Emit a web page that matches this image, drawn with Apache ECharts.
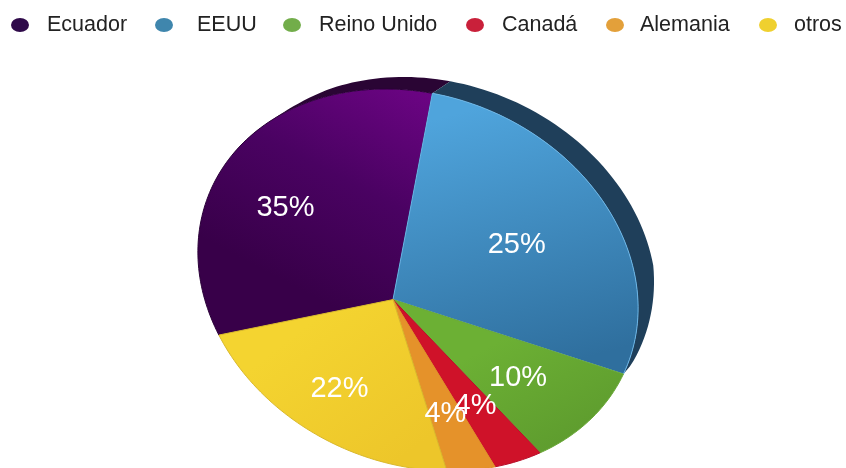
<!DOCTYPE html>
<html>
<head>
<meta charset="utf-8">
<title>Origen</title>
<script src="https://cdn.jsdelivr.net/npm/echarts@6/dist/echarts.min.js"></script>
<style>html,body{margin:0;padding:0;background:#fff}#c{width:846px;height:468px}</style>
</head>
<body>
<div id="c"></div>
<script>
// Shares per origin, clockwise from the Ecuador slice
const categories = ['Ecuador', 'EEUU', 'Reino Unido', 'Canadá', 'Alemania', 'otros'];
const shares = [35, 25, 10, 4, 4, 22];
const legendDots = ['#2f0a4a', '#3f86ad', '#72ad4a', '#c9203a', '#e3a03a', '#efd02f'];

// Tilted disc: screen ellipse, projected hub, angular foreshortening and the extrusion offset
const deg = Math.PI / 180;
const disc = { cx: 418, cy: 280, a: 226, b: 184, tilt: 23 * deg, hubX: -0.068, hubY: 0.151, start: 137 * deg };
const foreshorten = { base: -0.22, c1: 1.32, s1: 0.36, c2: 1.40, s2: 1.54 };
const depth = { x: 18, y: -12 };
const total = shares.reduce((s, v) => s + v, 0);

function toScreen(x, y) {
  return [disc.cx + x * Math.cos(disc.tilt) - y * Math.sin(disc.tilt),
          disc.cy + x * Math.sin(disc.tilt) + y * Math.cos(disc.tilt)];
}
function rimPoint(frac) {
  const w = 2 * Math.PI * frac, f = foreshorten;
  const shift = f.base + f.c1 * Math.cos(w) + f.s1 * Math.sin(w) + f.c2 * Math.cos(2 * w) + f.s2 * Math.sin(2 * w);
  const phi = disc.start + w + shift * deg;
  const ux = Math.cos(phi), uy = Math.sin(phi);
  const h = Math.hypot(disc.hubX, disc.hubY), nx = disc.hubX / h, ny = disc.hubY / h;
  const par = ux * nx + uy * ny, px = ux - par * nx, py = uy - par * ny;
  const den = 1 + h * par, k = Math.sqrt(1 - h * h) / den, q = (par + h) / den;
  return toScreen((q * nx + k * px) * disc.a, (q * ny + k * py) * disc.b);
}
function hubPoint() {
  return toScreen(disc.hubX * disc.a, disc.hubY * disc.b);
}
function cumulative(i) {
  return shares.slice(0, i).reduce((s, v) => s + v, 0) / total;
}
function arc(from, to) {
  const pts = [], n = Math.max(4, Math.ceil((to - from) * 240));
  for (let j = 0; j <= n; j++) pts.push(rimPoint(from + (to - from) * j / n));
  return pts;
}
function grad(x1, y1, x2, y2, stops) {
  return new echarts.graphic.LinearGradient(x1, y1, x2, y2,
    stops.map((color, k) => ({ offset: k / (stops.length - 1), color })), true);
}

const faceFill = [
  () => grad(430, 92, 320, 300, ['#6c0484', '#4a0262', '#380049']),
  () => grad(470, 110, 540, 370, ['#4fa4dc', '#2f6f9e']),
  () => grad(500, 340, 560, 450, ['#6cb034', '#5e9c2e']),
  () => '#cf1229',
  () => '#e5922a',
  () => grad(300, 330, 400, 460, ['#f4d430', '#edc62a'])
];
const faceEdge = ['#2a0038', '#69b4e6', '#6aa838', '#b8102a', '#e09028', '#d9b82c'];
const labelFrac = [0.655, 0.58, 0.64, 0.66, 0.67, 0.67];

function faceItem(i) {
  return function () {
    const f0 = cumulative(i), f1 = f0 + shares[i] / total;
    const hub = hubPoint();
    const mid = rimPoint((f0 + f1) / 2);
    const t = labelFrac[i];
    return {
      type: 'group',
      children: [
        { type: 'polygon', shape: { points: [hub].concat(arc(f0, f1)) },
          style: { fill: faceFill[i](), stroke: faceEdge[i], lineWidth: 1 } },
        { type: 'text', z2: 10, x: hub[0] + (mid[0] - hub[0]) * t, y: hub[1] + (mid[1] - hub[1]) * t,
          style: { text: shares[i] + '%', fill: '#fff', font: '29px "Liberation Sans", Arial, sans-serif', align: 'center', verticalAlign: 'middle' } }
      ]
    };
  };
}

// Extruded edge behind the two far slices, pinched to nothing where it runs into the near rim
function edgeItem() {
  const children = [];
  [[0, '#2a0534'], [1, '#1f3f5a']].forEach(([i, fill]) => {
    const f0 = cumulative(i), f1 = f0 + shares[i] / total;
    const inner = arc(f0, f1);
    const last = inner.length - 1;
    const outer = inner.map((p, j) => {
      const w = i === 1
        ? Math.min(1, Math.sqrt((last - j) / last / 0.3))
        : Math.max(0, Math.min(1, (j / last - 0.5) / 0.25));
      return [p[0] + depth.x * w, p[1] + depth.y * w];
    });
    children.push({ type: 'polygon', shape: { points: inner.concat(outer.reverse()) }, style: { fill } });
  });
  return { type: 'group', children };
}

const series = [{
  type: 'custom', name: 'canto', coordinateSystem: 'none', silent: true, z: 1,
  data: [0], renderItem: edgeItem, animation: false
}].concat(categories.map((name, i) => ({
  type: 'custom', name, coordinateSystem: 'none', silent: true, z: 2,
  data: [shares[i]], renderItem: faceItem(i), animation: false,
  itemStyle: { color: legendDots[i] }
})));

// Each legend entry is placed on its own: dot centre and the spacing to its text differ per entry
const legendDotX = [20, 164, 292, 475, 615, 768];
const legendPad = [13, 19, 13, 13, 11, 12];
const dotIcon = 'path://M0,5a5,5 0 1,0 10,0a5,5 0 1,0 -10,0z';
const legend = categories.map((name, i) => ({
  data: [name], left: legendDotX[i] - 9, top: 14, padding: 0, icon: dotIcon, symbolKeepAspect: false,
  itemWidth: 18, itemHeight: 14, selectedMode: false,
  textStyle: { color: '#222', fontSize: 21.5, padding: [0, 0, 0, legendPad[i]], fontFamily: '"Liberation Sans", Arial, sans-serif' }
}));

const chart = echarts.init(document.getElementById('c'), null, { renderer: 'canvas' });
chart.setOption({ animation: false, backgroundColor: '#fff', legend, series });
</script>
</body>
</html>
